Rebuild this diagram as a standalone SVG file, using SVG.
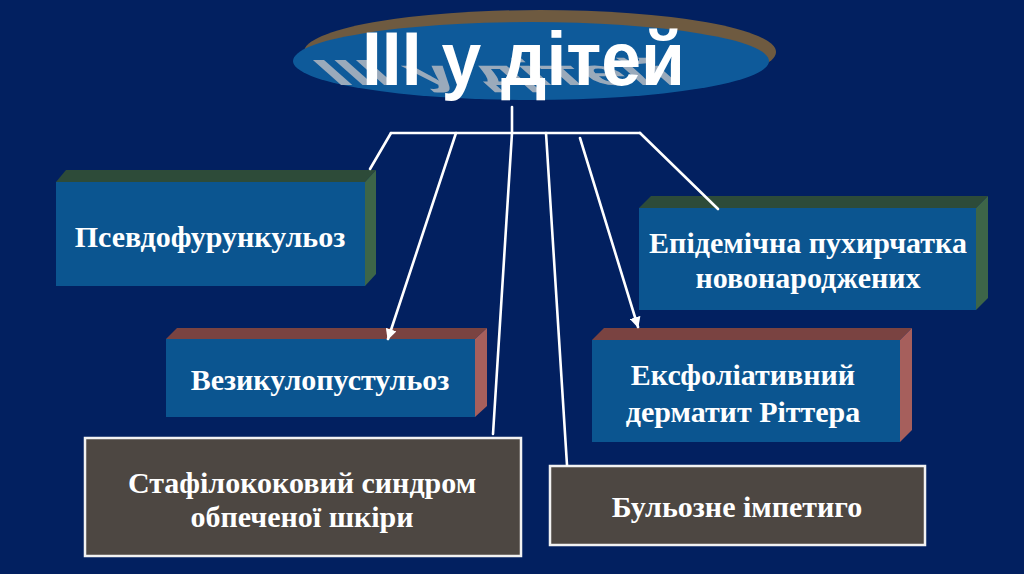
<svg xmlns="http://www.w3.org/2000/svg" width="1024" height="574" viewBox="0 0 1024 574">
<defs>
<style>
.bg{fill:#022060}
.front{fill:#0b5590}
.gtop{fill:#2d4b39}
.gside{fill:#3d6548}
.mtop{fill:#7a4341}
.mside{fill:#a65f5c}
.grey{fill:#4d4742;stroke:#f2f2f2;stroke-width:2.5}
.lbl{font-family:"Liberation Serif","Times New Roman",serif;font-weight:bold;font-size:30px;fill:#ffffff;text-anchor:middle}
.conn{stroke:#ffffff;stroke-width:2.6;fill:none;stroke-linecap:round}
.title{font-family:"Liberation Sans",Arial,sans-serif;font-weight:bold;font-size:76px}
</style>
<marker id="arr" markerWidth="11" markerHeight="11" refX="9" refY="5" orient="auto" markerUnits="userSpaceOnUse" viewBox="0 0 10 10">
<path d="M0,0 L10,5 L0,10 z" fill="#ffffff"/>
</marker>
</defs>
<rect class="bg" x="0" y="0" width="1024" height="574"/>

<g id="title">
<ellipse cx="540" cy="52" rx="236" ry="42" fill="#6e5a40"/>
<ellipse cx="531" cy="61" rx="238" ry="39" fill="#0e5a9a"/>
<text class="title" transform="matrix(1.08,0,0.54,0.48,336,85)" x="0" y="0" textLength="323" lengthAdjust="spacingAndGlyphs" fill="#aab3bf" opacity="0.9">ІІІ у дітей</text>
<text class="title" x="362" y="85" textLength="323" lengthAdjust="spacingAndGlyphs" fill="#ffffff">ІІІ у дітей</text>
</g>

<g id="node-pseudo">
<polygon class="gtop" points="56,182 66,170 376,170 365,182"/>
<polygon class="gside" points="365,182 376,170 376,274 365,286"/>
<rect class="front" x="56" y="182" width="309" height="104"/>
<text class="lbl" x="210" y="247">Псевдофурункульоз</text>
</g>

<g id="node-vesiculo">
<polygon class="mtop" points="166,339 177,328 487,328 475,339"/>
<polygon class="mside" points="475,339 487,328 487,406 475,417"/>
<rect class="front" x="166" y="339" width="309" height="78"/>
<text class="lbl" x="320" y="390">Везикулопустульоз</text>
</g>

<g id="node-epidemic">
<polygon class="gtop" points="639,208 651,196 988,196 976,208"/>
<polygon class="gside" points="976,208 988,196 988,298 976,310"/>
<rect class="front" x="639" y="208" width="337" height="102"/>
<text class="lbl" x="808" y="253">Епідемічна пухирчатка</text>
<text class="lbl" x="808" y="288">новонароджених</text>
</g>

<g id="node-ritter">
<polygon class="mtop" points="592,340 604,328 912,328 900,340"/>
<polygon class="mside" points="900,340 912,328 912,430 900,442"/>
<rect class="front" x="592" y="340" width="308" height="102"/>
<text class="lbl" x="743" y="385">Ексфоліативний</text>
<text class="lbl" x="743" y="422">дерматит Ріттера</text>
</g>

<g id="node-ssss">
<rect class="grey" x="85" y="438" width="436" height="118"/>
<text class="lbl" x="302" y="493">Стафілококовий синдром</text>
<text class="lbl" x="302" y="527">обпеченої шкіри</text>
</g>

<g id="node-bullous">
<rect class="grey" x="550" y="466" width="375" height="79"/>
<text class="lbl" x="737" y="517">Бульозне імпетиго</text>
</g>

<g id="connectors">
<line class="conn" x1="512" y1="107" x2="512" y2="133"/>
<line class="conn" x1="391" y1="133" x2="640" y2="133"/>
<line class="conn" x1="391" y1="133" x2="370" y2="169"/>
<line class="conn" x1="456" y1="133" x2="388" y2="339" marker-end="url(#arr)"/>
<line class="conn" x1="512" y1="133" x2="493" y2="434"/>
<line class="conn" x1="546" y1="133" x2="567" y2="465"/>
<line class="conn" x1="580" y1="138" x2="638" y2="327" marker-end="url(#arr)"/>
<line class="conn" x1="640" y1="133" x2="718" y2="209"/>
</g>
</svg>
